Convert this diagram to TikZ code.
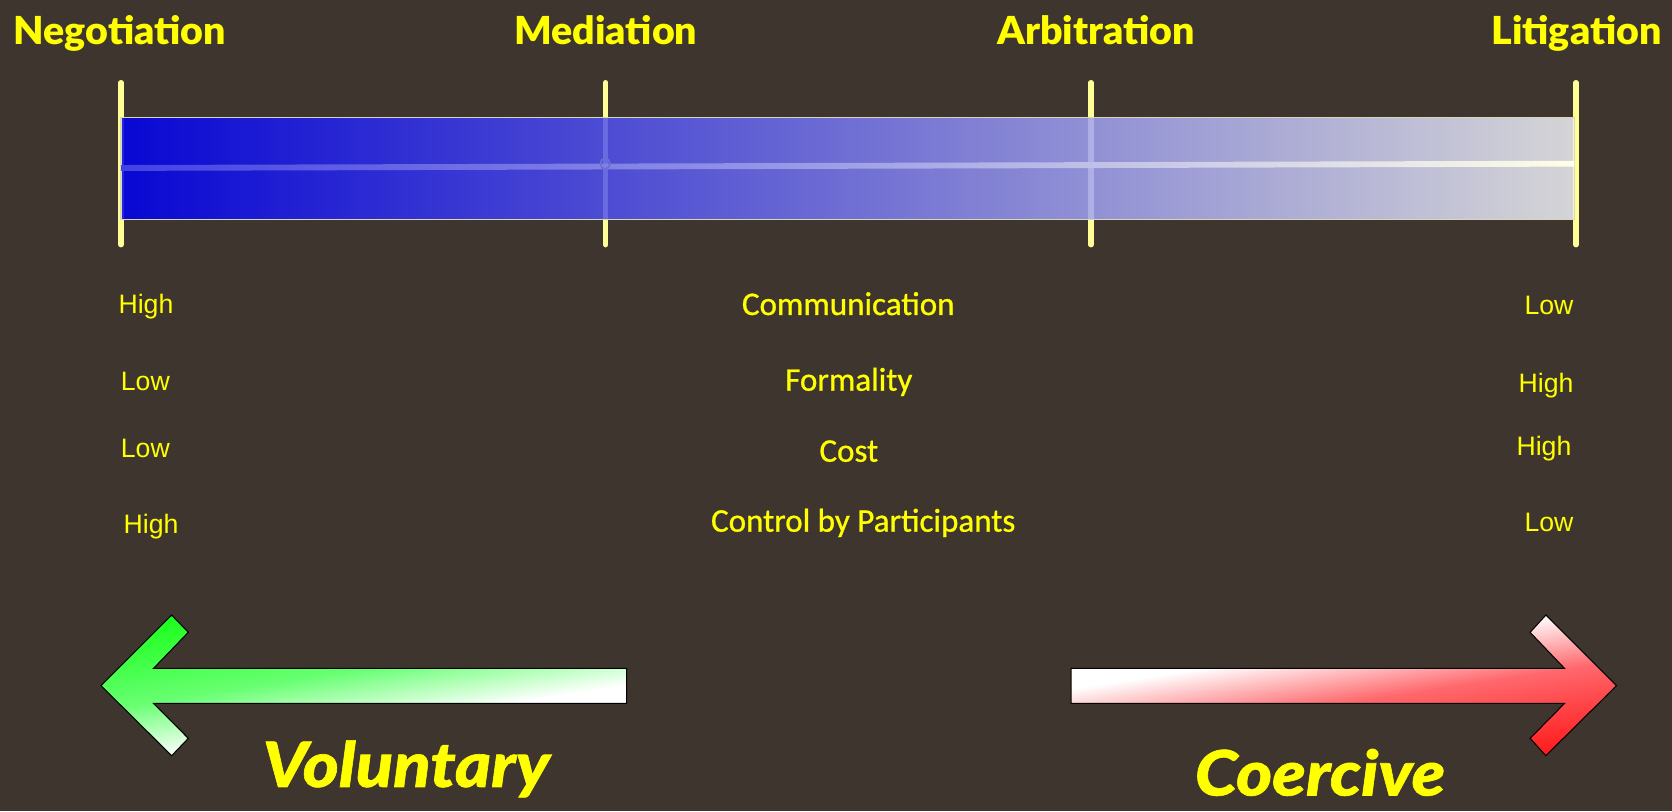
\documentclass[tikz,border=0pt]{standalone}
\usepackage{fontspec}
\setmainfont{Liberation Sans}
\newfontfamily\labelfont{Carlito}[FakeBold=0.8]
\IfFontExistsTF{Lato Black}
  {\newfontfamily\headfont{Lato Black}[FakeStretch=1.02]}
  {\newfontfamily\headfont{Lato}[UprightFont=* Bold, FakeBold=2, FakeStretch=1.03]}
\IfFontExistsTF{Lato Black Italic}
  {\newfontfamily\slantfont{Lato Black Italic}[FakeStretch=1.1, FakeBold=1]}
  {\newfontfamily\slantfont{Lato}[UprightFont=* Bold Italic, FakeBold=3, FakeStretch=1.14]}

\definecolor{bg}{RGB}{62,54,46}
\definecolor{ink}{RGB}{255,255,0}
\definecolor{tickc}{RGB}{255,255,150}
\definecolor{barL}{RGB}{0,0,240}
\definecolor{barR}{RGB}{240,241,244}
\definecolor{barEdge}{RGB}{215,215,185}
\definecolor{lineL}{RGB}{66,66,228}
\definecolor{lineR}{RGB}{255,255,232}
\definecolor{knot}{RGB}{110,110,210}
\definecolor{grA}{RGB}{25,255,25}
\definecolor{grM}{RGB}{105,255,115}
\definecolor{rdA}{RGB}{255,25,25}
\definecolor{rdM}{RGB}{255,105,110}

\tikzset{
  tickline/.style={draw=tickc, line width=2.5pt, line cap=round},
  head/.style={text=ink, font=\headfont\fontsize{18.1}{20}\selectfont, inner sep=0pt, anchor=base},
  crit/.style={text=ink, font=\labelfont\fontsize{15.5}{18}\selectfont, inner sep=0pt, anchor=base},
  level/.style={text=ink, font=\fontsize{12.5}{14}\selectfont, inner sep=0pt},
  mood/.style={text=ink, font=\slantfont\fontsize{29.3}{32}\selectfont, inner sep=0pt, anchor=base},
  arrowline/.style={draw=black, line width=0.5pt, line join=miter}
}

\begin{document}
\begin{tikzpicture}[x=0.5pt, y=-0.5pt]
  \useasboundingbox (0,0) rectangle (1568,760.6);
  \fill[bg] (0,0) rectangle (1568,760.6);

  % stage headings
  \node[head] (neg) at (112.5,41.6) {Negotiation};
  \node[head] (med) at (568,41.6) {Mediation};
  \node[head] (arb) at (1028,41.6) {Arbitration};
  \node[head] (lit) at (1478.5,41.6) {Litigation};

  % tick marks of the scale
  \coordinate (t1a) at (113.5,77.5);  \coordinate (t1b) at (113.5,229.5);
  \coordinate (t2a) at (568,77.5);    \coordinate (t2b) at (568,229.5);
  \coordinate (t3a) at (1023,77.5);   \coordinate (t3b) at (1023,229.5);
  \coordinate (t4a) at (1478,77.5);   \coordinate (t4b) at (1478,229.5);
  \draw[tickline] (t1a) -- (t1b);
  \draw[tickline] (t2a) -- (t2b);
  \draw[tickline] (t3a) -- (t3b);
  \draw[tickline] (t4a) -- (t4b);

  % the graded bar, slightly see-through
  \shade[left color=barL, right color=barR, fill opacity=0.85] (113.5,110.4) rectangle (1476.5,205.7);
  \draw[barEdge, line width=0.5pt] (113.5,110.4) rectangle (1476.5,205.7);
  % the light axis running through it
  \shade[left color=lineL, right color=lineR]
    (113.5,154.75) -- (1476.5,150.75) -- (1476.5,156.25) -- (113.5,160.25) -- cycle;
  \draw[knot, line width=0.8pt] (567.5,153.5) ellipse (4.5 and 5);

  % criteria and their levels
  \node[crit] (comm) at (795.5,295.4) {Communication};
  \node[crit] (form) at (796,366.4) {Formality};
  \node[crit] (cost) at (796,433) {Cost};
  \node[crit] (ctrl) at (809.5,498.6) {Control by Participants};

  \node[level, anchor=base west] (commL) at (110.8,293.9) {High};
  \node[level, anchor=base west] (formL) at (113,365.8) {Low};
  \node[level, anchor=base west] (costL) at (113,428.9) {Low};
  \node[level, anchor=base west] (ctrlL) at (115.5,500.2) {High};

  \node[level, anchor=base east] (commR) at (1476,294.5) {Low};
  \node[level, anchor=base east] (formR) at (1476,368.3) {High};
  \node[level, anchor=base east] (costR) at (1474,427.6) {High};
  \node[level, anchor=base east] (ctrlR) at (1476,498.6) {Low};

  % green arrow pointing left
  \begin{scope}
    \clip (94.7,643) -- (161,576.8) -- (176.6,593) -- (144,626.8) -- (587.6,626.8)
      -- (587.6,659.6) -- (144,659.6) -- (176.6,692.4) -- (161,708.7) -- cycle;
    \begin{scope}[transform canvas={rotate around={8.8:(161,576.8)}}]
      \fill[white] (-400,300) rectangle (1200,950);
      \fill[grA] (-400,300) rectangle (1200,577);
      \shade[top color=grA, bottom color=grM] (-400,576.8) rectangle (1200,655.2);
      \shade[top color=grM, bottom color=white] (-400,654.8) rectangle (1200,707.2);
    \end{scope}
  \end{scope}
  \draw[arrowline] (94.7,643) -- (161,576.8) -- (176.6,593) -- (144,626.8) -- (587.6,626.8)
      -- (587.6,659.6) -- (144,659.6) -- (176.6,692.4) -- (161,708.7) -- cycle;

  % red arrow pointing right
  \begin{scope}
    \clip (1516,643) -- (1449.7,576.8) -- (1434.9,593) -- (1467.2,626.8) -- (1004.4,626.8)
      -- (1004.4,659.6) -- (1467.2,659.6) -- (1434.9,692.4) -- (1449.7,708.7) -- cycle;
    \begin{scope}[transform canvas={rotate around={8.8:(1449.7,708.7)}}]
      \fill[white] (400,350) rectangle (2000,1000);
      \fill[rdA] (400,708.5) rectangle (2000,1000);
      \shade[top color=rdM, bottom color=rdA] (400,630.3) rectangle (2000,708.7);
      \shade[top color=white, bottom color=rdM] (400,578.3) rectangle (2000,630.7);
    \end{scope}
  \end{scope}
  \draw[arrowline] (1516,643) -- (1449.7,576.8) -- (1434.9,593) -- (1467.2,626.8) -- (1004.4,626.8)
      -- (1004.4,659.6) -- (1467.2,659.6) -- (1434.9,692.4) -- (1449.7,708.7) -- cycle;

  % direction captions
  \node[mood] (vol) at (381,738) {Voluntary};
  \node[mood] (coe) at (1238,746) {Coercive};
\end{tikzpicture}
\end{document}
